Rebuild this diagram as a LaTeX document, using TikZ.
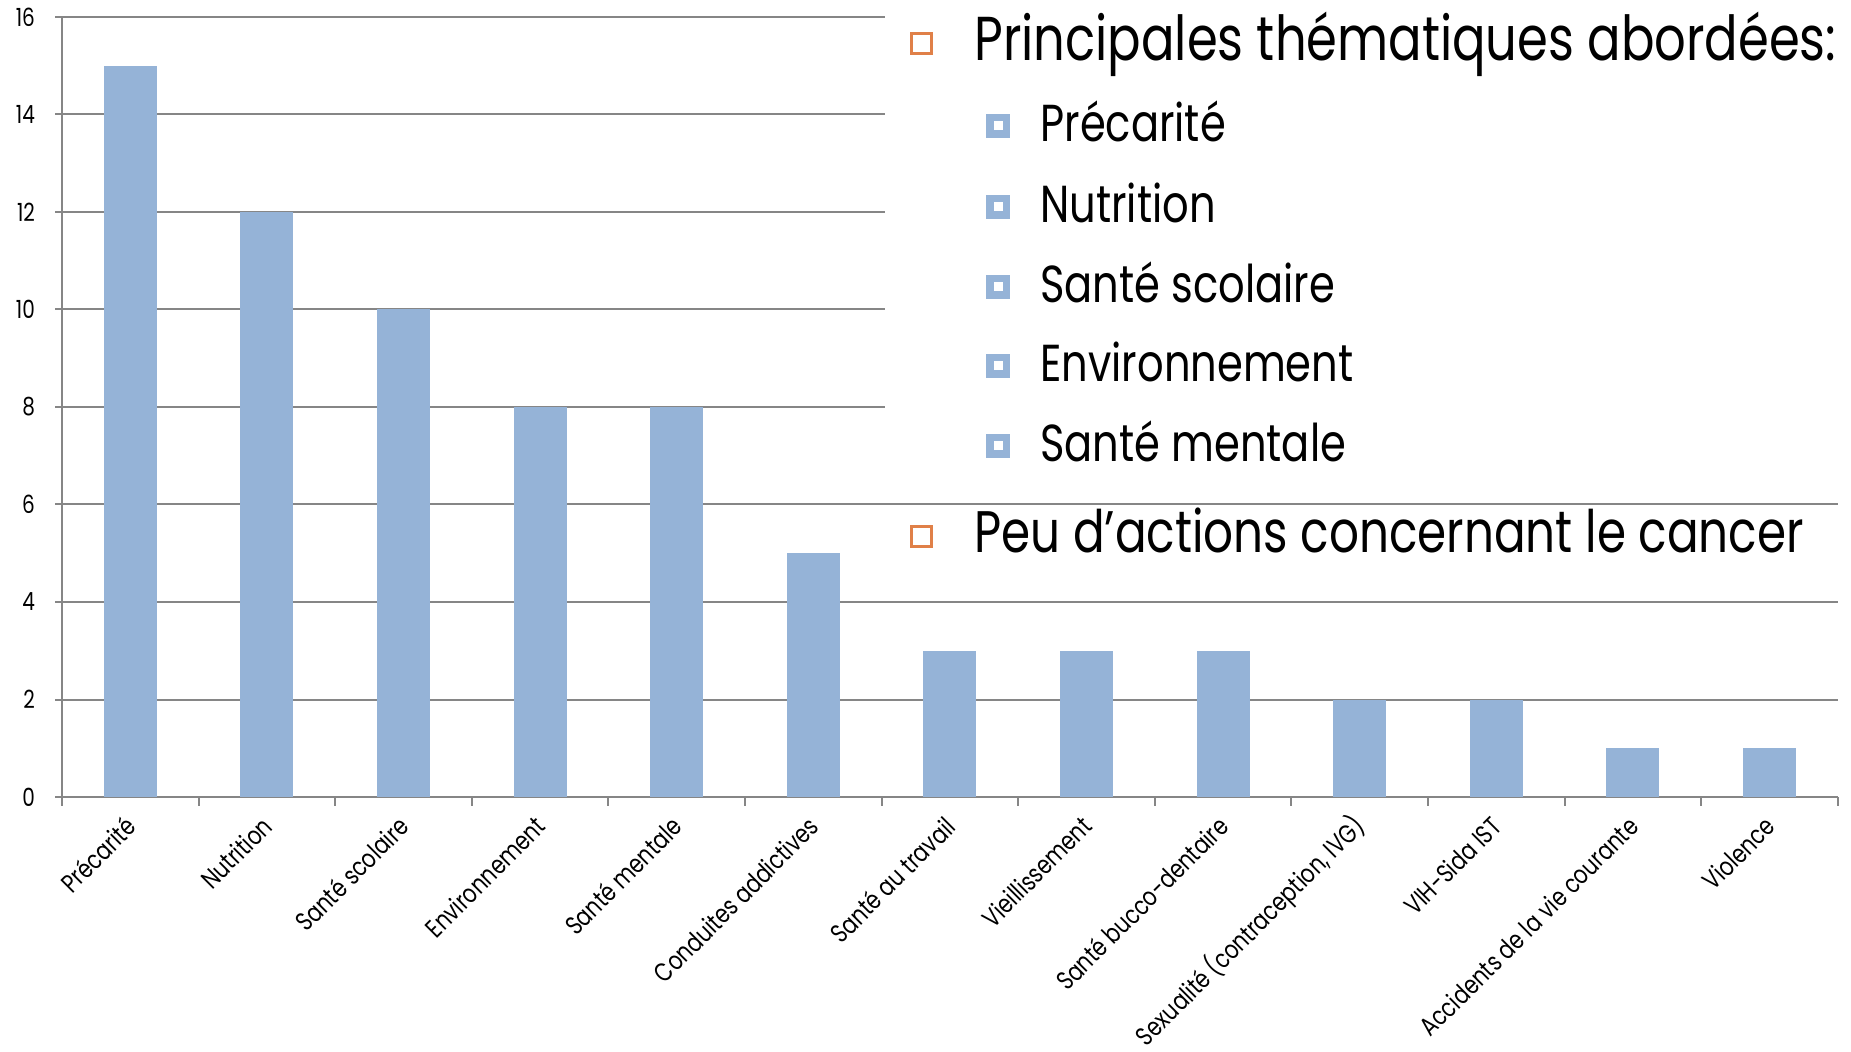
\documentclass[tikz,border=0pt]{standalone}
\usepackage{fontspec}
\setmainfont[FakeStretch=0.8]{Poppins}
\usepackage{tikz}
\definecolor{barblue}{RGB}{149,179,215}
\definecolor{gridgray}{RGB}{134,134,134}
\definecolor{bulletorange}{RGB}{224,128,72}
\tikzset{
  bar/.style={fill=barblue},
  gridline/.style={draw=gridgray, line width=1pt},
  ylabel/.style={anchor=east, font=\fontsize{12.5}{15}\selectfont},
  xlabel/.style={anchor=east, rotate=45, inner sep=1pt, font=\fontsize{13}{15}\selectfont},
  mainbullet/.style={draw=bulletorange, line width=1.5pt, minimum size=10pt, inner sep=0pt},
  subbullet/.style={fill=barblue, minimum size=12pt, inner sep=0pt},
  mainitem/.style={anchor=base west, inner sep=0pt, font=\fontsize{31}{36}\selectfont},
  subitem/.style={anchor=base west, inner sep=0pt, font=\fontsize{26}{31}\selectfont},
}
\begin{document}
\begin{tikzpicture}[x=0.5pt,y=-0.5pt]
  \useasboundingbox (0,0) rectangle (1851,1052);

  % grid and y axis
  \foreach \v in {0,2,...,16} {
    \pgfmathsetmacro{\yy}{797-48.75*\v}
    \pgfmathsetmacro{\xend}{\v>6 ? 885 : 1838}
    \draw[gridline] (55,\yy) -- (\xend,\yy);
    \node[ylabel] (y\v) at (42,\yy) {\v};
  }
  \draw[gridline] (62,17) -- (62,797);
  \foreach \i in {0,...,13}
    \draw[gridline] ({62+136.6*\i},797) -- ++(0,9);

  % bars
  \foreach \v [count=\i] in {15,12,10,8,8,5,3,3,3,2,2,1,1}
    \fill[bar] ({62+136.6*(\i-0.5)-26.5},797) rectangle ++(53,{-48.75*\v});

  % categories
  \foreach \t [count=\i] in {Précarité, Nutrition, Santé scolaire, Environnement,
      Santé mentale, Conduites addictives, Santé au travail, Vieillissement,
      Santé bucco-dentaire, {Sexualité (contraception, IVG)}, VIH-Sida IST,
      Accidents de la vie courante, Violence}
    \node[xlabel] (cat\i) at ({62+136.6*(\i-0.5)+2},820) {\t};

  % text on the right
  \node[mainbullet] (b1) at (921,44) {};
  \node[mainitem] (head) at (974,61) {Principales thématiques abordées:};
  \foreach \t/\c [count=\i] in {Précarité/126, Nutrition/207, Santé scolaire/287,
      Environnement/366, Santé mentale/446} {
    \node[subbullet] (s\i) at (998,\c) {};
    \fill[white] (s\i.center) ++(-4.5,-4.5) rectangle ++(9,9);
    \node[subitem] (item\i) at (1040,\c+16) {\t};
  }
  \node[mainbullet] (b2) at (921,537) {};
  \node[mainitem, font=\fontsize{29.3}{35}\selectfont] (cancer) at (974,553)
    {Peu d’actions concernant le cancer};
\end{tikzpicture}
\end{document}
